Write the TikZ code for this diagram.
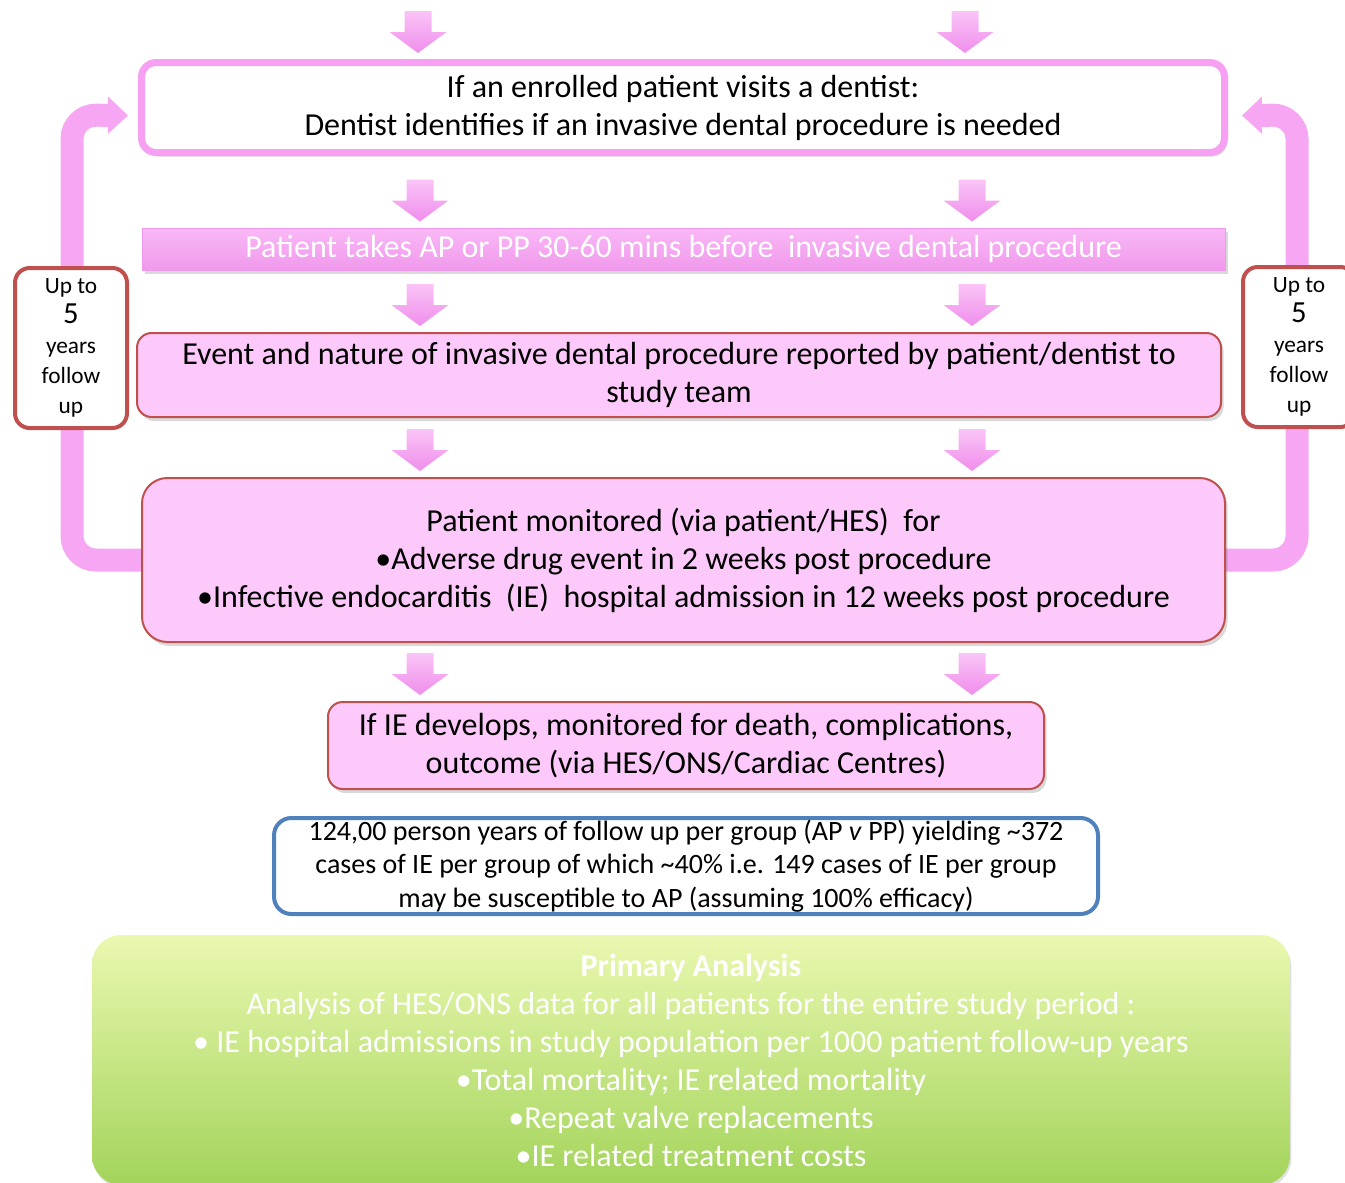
\documentclass[tikz,border=0pt]{standalone}
\usepackage{fontspec}
\setmainfont{Carlito}
\usetikzlibrary{shadows,arrows.meta,calc,backgrounds}

\definecolor{pinkline}{HTML}{F79FF2}
\definecolor{pinkfill}{HTML}{FDC9FA}
\definecolor{redline}{HTML}{C0504D}
\definecolor{blueline}{HTML}{4F81BD}
\definecolor{arrowtop}{HTML}{FAC4F7}
\definecolor{arrowbot}{HTML}{EE86EA}
\definecolor{pipepink}{HTML}{F6A6F2}
\definecolor{bartop}{HTML}{F9B8F6}
\definecolor{barbot}{HTML}{F099EC}
\definecolor{greentop}{HTML}{EAF8B0}
\definecolor{greenbot}{HTML}{A3D45B}

% fat down arrow at x=#1 pointing at node #2
\newcommand{\fatdown}[2]{%
  \shade[fatarrow] (#1,0 |- #2.north) ++(0,-6)
    -- ++(-28.5,-21) -- ++(15,0) -- ++(0,-21) -- ++(27,0) -- ++(0,21) -- ++(15,0) -- cycle;}

\begin{document}
\begin{tikzpicture}[x=0.75pt, y=-0.75pt, line join=round, line cap=round,
    mainfont/.style={font=\fontsize{24}{28.5}\selectfont},
    startbox/.style={draw=pinkline, line width=5.25pt, fill=white, rounded corners=11pt,
      align=center, inner sep=0pt, mainfont,
      drop shadow={shadow xshift=2pt, shadow yshift=-3pt, opacity=0.3}},
    takebar/.style={top color=bartop, bottom color=barbot, draw=barbot, line width=0.75pt,
      align=center, inner sep=0pt, text=white, font=\fontsize{24}{28}\selectfont,
      drop shadow={shadow xshift=2pt, shadow yshift=-3pt, opacity=0.3}},
    stage/.style={draw=redline, line width=1.5pt, fill=pinkfill, rounded corners=11pt,
      align=center, inner sep=0pt, mainfont,
      drop shadow={shadow xshift=2pt, shadow yshift=-3pt, opacity=0.3}},
    calcbox/.style={draw=blueline, line width=3pt, fill=white, rounded corners=13pt,
      align=center, inner sep=0pt, font=\fontsize{21}{25}\selectfont},
    analysis/.style={top color=greentop, bottom color=greenbot, draw=none, rounded corners=22pt,
      align=center, inner sep=0pt, text=white, mainfont,
      drop shadow={shadow xshift=1pt, shadow yshift=-2pt, opacity=0.25}},
    yearsbox/.style={draw=redline, line width=3pt, fill=white, rounded corners=11pt,
      align=center, inner sep=0pt, font=\fontsize{17.5}{22.5}\selectfont},
    pipe/.style={draw=pipepink, line width=17.25pt, rounded corners=18pt, line cap=butt,
      -{Triangle[length=15pt, width=27pt]}},
    fatarrow/.style={top color=arrowtop, bottom color=arrowbot, draw=none}]
  \useasboundingbox (0,0) rectangle (1345,1182);

  \node[startbox, minimum width=1083*0.75pt, minimum height=90*0.75pt] (visit) at (683,107.5)
    {If an enrolled patient visits a dentist:\\Dentist identifies if an invasive dental procedure is needed};
  \node[takebar, minimum width=1083*0.75pt, minimum height=42*0.75pt] (takes) at (683.5,249)
    {Patient takes AP or PP 30-60 mins before\ \ invasive dental procedure};
  \node[stage, minimum width=1084*0.75pt, minimum height=84*0.75pt] (report) at (679,375)
    {Event and nature of invasive dental procedure reported by patient/dentist to\\study team};
  \node[stage, rounded corners=19pt, minimum width=1083*0.75pt, minimum height=164*0.75pt] (monitor) at (683.5,560)
    {Patient monitored (via patient/HES)\ \ for\\%
     •Adverse drug event in 2 weeks post procedure\\%
     •Infective endocarditis\ \ (IE)\ \ hospital admission in 12 weeks post procedure};
  \node[stage, minimum width=716*0.75pt, minimum height=87*0.75pt] (develops) at (686,745.5)
    {If IE develops, monitored for death, complications,\\outcome (via HES/ONS/Cardiac Centres)};
  \node[calcbox, minimum width=824*0.75pt, minimum height=96*0.75pt] (yield) at (686,866)
    {124,00 person years of follow up per group (AP \emph{v} PP) yielding \textasciitilde372\\%
     cases of IE per group of which \textasciitilde40\% i.e. 149 cases of IE per group\\%
     may be susceptible to AP (assuming 100\% efficacy)};
  \node[analysis, minimum width=1198*0.75pt, minimum height=250*0.75pt] (primary) at (691,1060)
    {\textbf{Primary Analysis}\\%
     Analysis of HES/ONS data for all patients for the entire study period :\\%
     • IE hospital admissions in study population per 1000 patient follow-up years\\%
     •Total mortality; IE related mortality\\%
     •Repeat valve replacements\\%
     •IE related treatment costs};

  % loops back to the top
  \begin{scope}[on background layer]
    \draw[pipe] (monitor.west) -- (72,0 |- monitor.west) -- (72,115) -- ($(visit.west)+(-10,8)$);
    \draw[pipe] (monitor.east) -- (1297,0 |- monitor.east) -- (1297,115) -- ($(visit.east)+(14,8)$);
  \end{scope}
  \node[yearsbox, minimum width=112*0.75pt, minimum height=160*0.75pt] (leftyears) at (71,348)
    {Up to\\{\fontsize{23}{22.5}\selectfont 5}\\years\\follow\\up};
  \node[yearsbox, minimum width=112*0.75pt, minimum height=160*0.75pt] (rightyears) at (1299,347)
    {Up to\\{\fontsize{23}{22.5}\selectfont 5}\\years\\follow\\up};

  % fat arrows
  \fatdown{418}{visit}
  \fatdown{965}{visit}
  \foreach \n in {takes,report,monitor,develops}{
    \fatdown{420}{\n}
    \fatdown{972}{\n}
  }
\end{tikzpicture}
\end{document}
